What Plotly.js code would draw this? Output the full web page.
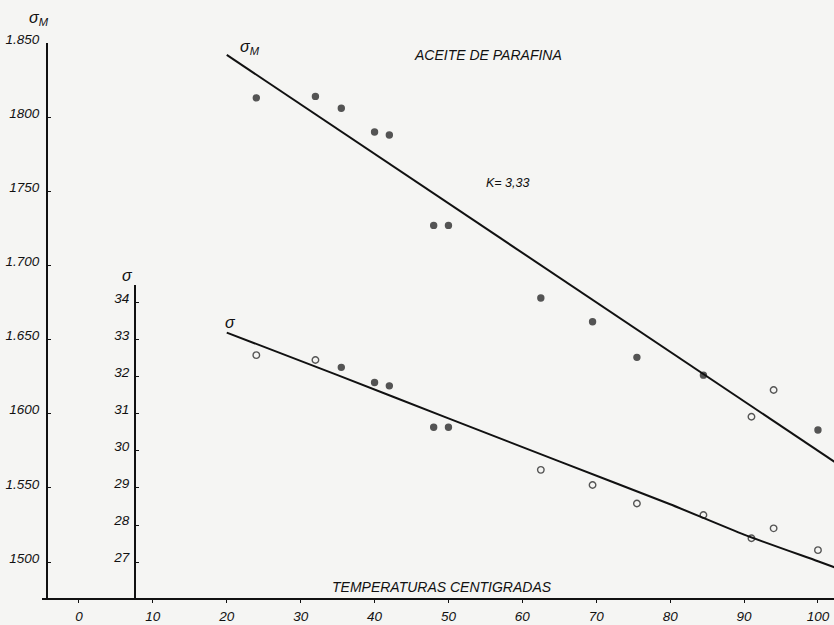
<!DOCTYPE html>
<html>
<head>
<meta charset="utf-8">
<script src="https://cdn.plot.ly/plotly-3.0.1.min.js"></script>
<style>
html,body{margin:0;padding:0;background:#f5f5f3;}
#chart{width:834px;height:625px;}
</style>
</head>
<body>
<div id="chart"></div>
<script>
// ---- data ----
const tempC   = [24, 32, 35.5, 40, 42, 48, 50, 62.5, 69.5, 75.5, 84.5, 91, 94, 100];
const sigmaM  = [1813, 1814, 1806, 1790, 1788, 1727, 1727, 1678, 1662, 1638, 1626, 1598, 1616, 1589];
const sigma   = [32.59, 32.46, 32.26, 31.85, 31.76, 30.64, 30.64, 29.49, 29.08, 28.58, 28.27, 27.64, 27.91, 27.32];
const sigmaMOpenIdx = [11, 12];
const sigmaOpenIdx  = [0, 1, 7, 8, 9, 10, 11, 12, 13];

const fitMT = [20, 103];
const fitM  = [1842, 1565];
const fitT  = [20, 35, 50, 65, 80, 90, 100, 103];
const fitS  = [33.20, 32.05, 30.88, 29.72, 28.56, 27.74, 27.02, 26.80];

const xTicks = [0, 10, 20, 30, 40, 50, 60, 70, 80, 90, 100];
const yMTicks = [1500, 1550, 1600, 1650, 1700, 1750, 1800, 1850];
const yMTickText = ['1500', '1.550', '1600', '1.650', '1.700', '1750', '1800', '1.850'];
const ySTicks = [27, 28, 29, 30, 31, 32, 33, 34];

const titleText = 'ACEITE DE PARAFINA';
const xTitleText = 'TEMPERATURAS CENTIGRADAS';
const kText = 'K= 3,33';

// ---- layout geometry ----
const W = 834, H = 625;
const L = 42, B = 27;
const PW = W - L, PH = H - B;
const px = x => (x - L) / PW;
const py = y => (H - B - y) / PH;

const ink = '#111111';
const FONT = 'Liberation Sans, Arial, sans-serif';
const it = (size) => ({family: FONT, size: size, color: ink, style: 'italic'});

function symbols(n, openIdx) {
  const s = [];
  for (let i = 0; i < n; i++) s.push(openIdx.includes(i) ? 'circle-open' : 'circle');
  return s;
}
function sizes(n, openIdx) {
  const s = [];
  for (let i = 0; i < n; i++) s.push(openIdx.includes(i) ? 6.5 : 6);
  return s;
}

const traces = [
  {x: fitMT, y: fitM, mode: 'lines', line: {color: ink, width: 2}, xaxis: 'x', yaxis: 'y', hoverinfo: 'skip'},
  {x: tempC, y: sigmaM, mode: 'markers', xaxis: 'x', yaxis: 'y',
   marker: {color: ink, symbol: symbols(tempC.length, sigmaMOpenIdx), size: sizes(tempC.length, sigmaMOpenIdx), line: {color: ink, width: 1.4}}},
  {x: fitT, y: fitS, mode: 'lines', line: {color: ink, width: 2, shape: 'spline', smoothing: 0.6}, xaxis: 'x', yaxis: 'y2', hoverinfo: 'skip'},
  {x: tempC, y: sigma, mode: 'markers', xaxis: 'x', yaxis: 'y2',
   marker: {color: ink, symbol: symbols(tempC.length, sigmaOpenIdx), size: sizes(tempC.length, sigmaOpenIdx), line: {color: ink, width: 1.4}}}
];

const layout = {
  width: W, height: H,
  margin: {l: L, r: 0, t: 0, b: B, pad: 0},
  paper_bgcolor: '#f5f5f3',
  plot_bgcolor: 'rgba(0,0,0,0)',
  showlegend: false,
  xaxis: {
    range: [-5.0, 102.17], domain: [0, 1],
    showgrid: false, zeroline: false, showline: true, linecolor: ink, linewidth: 1.8,
    tickmode: 'array', tickvals: xTicks, ticks: 'outside', ticklen: 3, tickcolor: ink, tickwidth: 1,
    tickfont: it(13.5), ticklabelstandoff: 2, anchor: 'y'
  },
  yaxis: {
    range: [1475.72, 1850], domain: [0, 555 / 598],
    showgrid: false, zeroline: false, showline: true, linecolor: ink, linewidth: 1.8,
    tickmode: 'array', tickvals: yMTicks, ticktext: yMTickText,
    ticks: 'inside', ticklen: 3, tickcolor: ink, tickwidth: 1,
    tickfont: it(13.5), anchor: 'free', position: px(46), ticklabelstandoff: 4, ticklabelshift: -4
  },
  yaxis2: {
    range: [26.027, 34.486], domain: [0, (598 - 285) / 598],
    showgrid: false, zeroline: false, showline: true, linecolor: ink, linewidth: 1.8,
    tickmode: 'array', tickvals: ySTicks,
    ticks: 'inside', ticklen: 3, tickcolor: ink, tickwidth: 1,
    tickfont: it(13.5), anchor: 'free', position: px(134), ticklabelstandoff: 2, ticklabelshift: -5
  },
  annotations: [
    {text: 'σ<sub>M</sub>', xref: 'paper', yref: 'paper', x: px(27), y: py(19), xanchor: 'left', yanchor: 'middle', showarrow: false, font: it(16)},
    {text: 'σ<sub>M</sub>', xref: 'paper', yref: 'paper', x: px(238), y: py(48), xanchor: 'left', yanchor: 'middle', showarrow: false, font: it(16)},
    {text: 'σ', xref: 'paper', yref: 'paper', x: px(127), y: py(275), xanchor: 'center', yanchor: 'middle', showarrow: false, font: it(16)},
    {text: 'σ', xref: 'paper', yref: 'paper', x: px(230), y: py(322), xanchor: 'center', yanchor: 'middle', showarrow: false, font: it(16)},
    {text: titleText, xref: 'paper', yref: 'paper', x: px(488), y: py(55), xanchor: 'center', yanchor: 'middle', showarrow: false, font: it(14)},
    {text: kText, xref: 'paper', yref: 'paper', x: px(508), y: py(183), xanchor: 'center', yanchor: 'middle', showarrow: false, font: it(12.5)},
    {text: xTitleText, xref: 'paper', yref: 'paper', x: px(442), y: py(587), xanchor: 'center', yanchor: 'middle', showarrow: false, font: it(14)}
  ]
};

Plotly.newPlot('chart', traces, layout, {displayModeBar: false, staticPlot: true});
</script>
</body>
</html>
